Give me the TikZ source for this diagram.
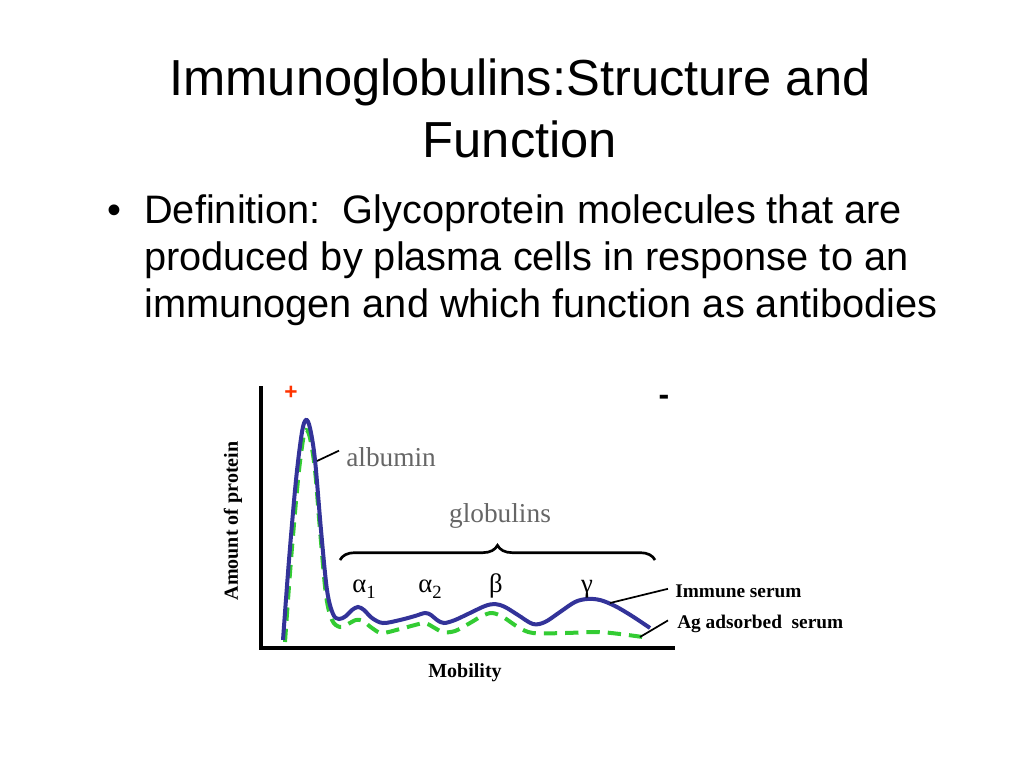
\documentclass[tikz,border=0pt]{standalone}
\usepackage{fontspec}
\setmainfont{Liberation Serif}
\newfontfamily\arialfont{Liberation Sans}
\usetikzlibrary{decorations.pathreplacing,calc}

\definecolor{serumblue}{RGB}{51,51,153}
\definecolor{adsgreen}{RGB}{51,204,51}
\definecolor{labelgray}{RGB}{102,102,102}
\definecolor{plusred}{RGB}{255,51,0}

\newcommand{\peaksub}[1]{\raisebox{-4.5pt}{\fontsize{14}{14}\selectfont #1}}

\tikzset{
  titletext/.style={inner sep=0pt, font=\arialfont\fontsize{38}{38}\selectfont},
  bodytext/.style={inner sep=0pt, font=\arialfont\fontsize{29.8}{29.8}\selectfont},
  curvelabel/.style={inner sep=0pt, text=labelgray, font=\fontsize{20.5}{20.5}\selectfont},
  peaklabel/.style={inner sep=0pt, font=\fontsize{20}{20}\selectfont},
  keylabel/.style={inner sep=0pt, font=\bfseries\fontsize{14.5}{14.5}\selectfont},
  axislabel/.style={inner sep=0pt, font=\bfseries\fontsize{15}{15}\selectfont},
  axisline/.style={line width=3pt, line cap=rect},
  leader/.style={line width=1.3pt},
  immune/.style={serumblue, line width=3pt},
  adsorbed/.style={adsgreen, line width=3pt, dash pattern=on 10pt off 6pt}
}

\begin{document}
\begin{tikzpicture}[x=0.75pt,y=0.75pt,yscale=-1,xscale=1]
	\useasboundingbox (0,0) rectangle (1024,768);
	
	% Title
	\node[titletext, anchor=base] (title1) at (520,95) {Immunoglobulins:Structure and};
	\node[titletext, anchor=base] (title2) at (520,157) {Function};
	
	% Bullet text
	\node[bodytext, anchor=base] (bullet) at (114,223) {\textbullet};
	\node[bodytext, anchor=base west] (body1) at (144,223) {Definition:\ \ Glycoprotein molecules that are};
	\node[bodytext, anchor=base west] (body2) at (144,270) {produced by plasma cells in response to an};
	\node[bodytext, anchor=base west] (body3) at (144,317) {immunogen and which function as antibodies};
	
	% Axes
	\draw[axisline] (261,388) -- (261,648) -- (673,648);
	\node[axislabel, anchor=base] (mob) at (465,677) {Mobility};
	\node[axislabel, rotate=90] (amt) at (233,521) {Amount of protein};
	
	% Poles
	\node[text=plusred, inner sep=0pt, font=\arialfont\bfseries\fontsize{17}{17}\selectfont] (plus) at (291,393) {+};
	\node[inner sep=0pt, font=\arialfont\bfseries\fontsize{24}{24}\selectfont] (minus) at (664,400) {-};
	
	% Ag adsorbed serum
	\draw[adsorbed] plot[smooth, tension=0.55] coordinates {(285,642) (291,560) (298,480) (303,440) (306,430) (310,438) (315,470) (320,530) (326,595) (332,620) (340,627) (348,624) (356,620) (363,621) (372,628) (382,633) (400,629) (415,625) (425,623) (433,627) (443,632) (455,631) (470,623) (482,616) (492,613) (503,617) (518,627) (533,633) (565,633) (597,632) (620,634) (650,638)};
	% Immune serum
	\draw[immune] plot[smooth, tension=0.55] coordinates {(283,640) (289,560) (296,480) (302,432) (306,420) (310,428) (315,460) (321,530) (327,590) (333,614) (339,619) (346,616) (352,610) (358,607) (364,610) (372,618) (383,623) (400,620) (415,616) (425,613) (431,615) (437,620) (444,623) (455,620) (470,613) (485,606) (495,604) (505,607) (518,615) (533,624) (545,622) (560,612) (575,602) (587,599) (600,600) (615,606) (632,616) (650,628)};
	
	% Peak labels
	\node[curvelabel, anchor=base west] (alb) at (346,466) {albumin};
	\node[curvelabel, anchor=base] (glob) at (500,522) {globulins};
	\node[peaklabel, anchor=base] (alpha1) at (364,592) {α\peaksub{1}};
	\node[peaklabel, anchor=base] (alpha2) at (430,592) {α\peaksub{2}};
	\node[peaklabel, anchor=base] (beta) at (496,592) {β};
	\node[peaklabel, anchor=base] (gamma) at (587,592) {γ};
	
	% Brace
	\coordinate (bracel) at (340,560);
	\coordinate (bracer) at (655,560);
	\draw[line width=2pt, decorate, decoration={brace, amplitude=11pt}] (bracel) -- (bracer);
	
	% Key labels
	\node[keylabel, anchor=base west] (immlab) at (675,597) {Immune serum};
	\node[keylabel, anchor=base west] (aglab) at (677,628) {Ag adsorbed\ \ serum};
	
	% Leaders
	\coordinate (albpt) at (317,461);
	\coordinate (immpt) at (610,603);
	\coordinate (agpt) at (640,637);
	\draw[leader] (albpt) -- ($(alb.west)+(-7,-6)$);
	\draw[leader] (immpt) -- ($(immlab.west)+(-7,-2)$);
	\draw[leader] (agpt) -- ($(aglab.west)+(-9,-3)$);
	
\end{tikzpicture}
\end{document}
